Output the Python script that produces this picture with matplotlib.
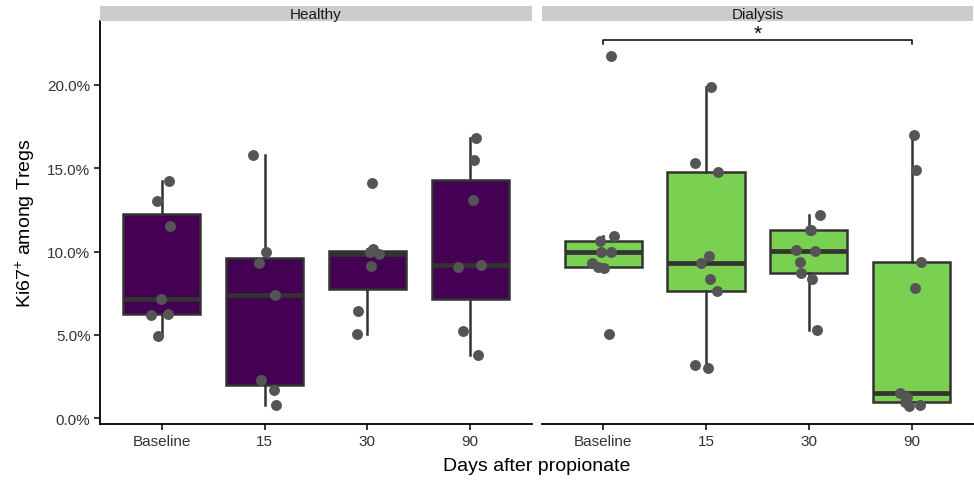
import numpy as np
import matplotlib
matplotlib.use("Agg")
import matplotlib.pyplot as plt
from matplotlib.patches import Rectangle

plt.rcParams['font.family'] = ['Liberation Sans', 'DejaVu Sans']
plt.rcParams['mathtext.fontset'] = 'custom'
plt.rcParams['mathtext.rm'] = 'Liberation Sans'
plt.rcParams['mathtext.it'] = 'Liberation Sans:italic'

# ---- donnees ----
jours = ["Baseline", "15", "30", "90"]
groupes = ["Healthy", "Dialysis"]

# Ki67+ parmi les Tregs (%) , un tableau par groupe et par jour
healthy_base = [14.24, 13.02, 11.54, 7.16, 6.20, 6.28, 4.92]
healthy_15 = [15.80, 9.96, 9.30, 7.42, 2.32, 1.72, 0.80]
healthy_30 = [14.12, 10.15, 9.95, 9.85, 9.12, 6.44, 5.04]
healthy_90 = [16.80, 15.50, 13.10, 9.06, 9.22, 5.26, 3.78]

dialysis_base = [21.73, 10.92, 10.62, 9.96, 9.96, 9.32, 9.06, 9.00, 5.06]
dialysis_15 = [19.90, 15.30, 14.80, 9.76, 9.30, 8.36, 7.62, 3.22, 3.00]
dialysis_30 = [12.22, 11.30, 11.32, 10.10, 10.02, 9.36, 8.72, 8.36, 5.30]
dialysis_90 = [17.02, 14.90, 9.36, 7.82, 1.54, 1.30, 0.96, 0.78, 0.72]

# decalages horizontaux du jitter
jit_healthy_base = [0.067, -0.05, 0.077, -0.007, -0.107, 0.057, -0.033]
jit_healthy_15 = [-0.11, 0.01, -0.05, 0.10, -0.033, 0.09, 0.11]
jit_healthy_30 = [0.043, 0.053, 0.027, 0.117, 0.037, -0.087, -0.103]
jit_healthy_90 = [0.057, 0.037, 0.023, -0.123, 0.107, -0.073, 0.08]

jit_dialysis_base = [0.078, 0.10, -0.032, 0.078, -0.023, -0.114, -0.049, 0.006, 0.055]
jit_dialysis_15 = [0.049, -0.107, 0.114, 0.032, -0.049, 0.042, 0.104, -0.107, 0.016]
jit_dialysis_30 = [0.11, 0.02, 0.01, -0.127, 0.058, -0.088, -0.078, 0.032, 0.081]
jit_dialysis_90 = [0.02, 0.04, 0.088, 0.032, -0.11, -0.045, -0.065, 0.084, -0.023]

couleurs = {"Healthy": "#440154", "Dialysis": "#7AD151"}

valeurs = {
    "Healthy": [healthy_base, healthy_15, healthy_30, healthy_90],
    "Dialysis": [dialysis_base, dialysis_15, dialysis_30, dialysis_90],
}
jitters = {
    "Healthy": [jit_healthy_base, jit_healthy_15, jit_healthy_30, jit_healthy_90],
    "Dialysis": [jit_dialysis_base, jit_dialysis_15, jit_dialysis_30, jit_dialysis_90],
}

# ---- mise en page (pixels) ----
W, H = 974, 481
fig = plt.figure(figsize=(W / 100, H / 100), dpi=100)

haut_panneau = 22
bas_panneau = 425
gauches = {"Healthy": 100.2, "Dialysis": 541.6}
largeur = 431.6

def fx(px):
    return px / W

def fy(py):
    return 1 - py / H

axes = {}
for g in groupes:
    ax = fig.add_axes([fx(gauches[g]), fy(bas_panneau), largeur / W,
                       (bas_panneau - haut_panneau) / H])
    axes[g] = ax
    pos = np.arange(1, 5)
    bp = ax.boxplot(valeurs[g], positions=pos, widths=0.75, patch_artist=True,
                    showfliers=False, showcaps=False, whis=1.5,
                    boxprops=dict(facecolor=couleurs[g], edgecolor="#333333", linewidth=1.8),
                    whiskerprops=dict(color="#333333", linewidth=1.8),
                    medianprops=dict(color="#333333", linewidth=3.4))
    for i in range(4):
        xs = pos[i] + np.array(jitters[g][i])
        ax.scatter(xs, valeurs[g][i], s=62, color="#555555", zorder=5, linewidths=0)

    ax.set_xlim(0.4, 4.6)
    ax.set_ylim(-0.34, 23.83)
    ax.set_xticks(pos)
    ax.set_xticklabels(jours)
    ax.set_yticks([0, 5, 10, 15, 20])
    ax.set_yticklabels(["0.0%", "5.0%", "10.0%", "15.0%", "20.0%"])
    ax.tick_params(axis="both", labelsize=11, colors="black", labelcolor="#333333",
                   length=4, width=1.1, pad=3)
    for s in ["top", "right"]:
        ax.spines[s].set_visible(False)
    ax.spines["bottom"].set_linewidth(1.3)
    ax.spines["left"].set_linewidth(1.3)
    ax.patch.set_alpha(0)

    # bandeau de facette
    fig.patches.append(Rectangle((fx(gauches[g]), fy(22)), largeur / W, 15 / H,
                                 transform=fig.transFigure, facecolor="#CCCCCC",
                                 edgecolor="none"))
    fig.text(fx(gauches[g] + largeur / 2), fy(14.5), g, ha="center", va="center",
             fontsize=11, color="#1A1A1A")

# le panneau Dialysis n'a pas d'axe y
axes["Dialysis"].spines["left"].set_visible(False)
axes["Dialysis"].tick_params(axis="y", left=False, labelleft=False)

# crochet de significativite
axd = axes["Dialysis"]
axd.plot([1, 1, 4, 4], [22.45, 22.72, 22.72, 22.45], color="black", linewidth=1.1,
         clip_on=False)
axd.text(2.5, 22.5, "*", ha="center", va="bottom", fontsize=15, clip_on=False)

fig.text(fx(536.7), fy(467), "Days after propionate", ha="center", va="center",
         fontsize=14)
fig.text(fx(25), fy(223.5), r"Ki67$^{+}$ among Tregs", ha="center", va="center",
         rotation=90, fontsize=14)

fig.savefig("out.png", dpi=100)
